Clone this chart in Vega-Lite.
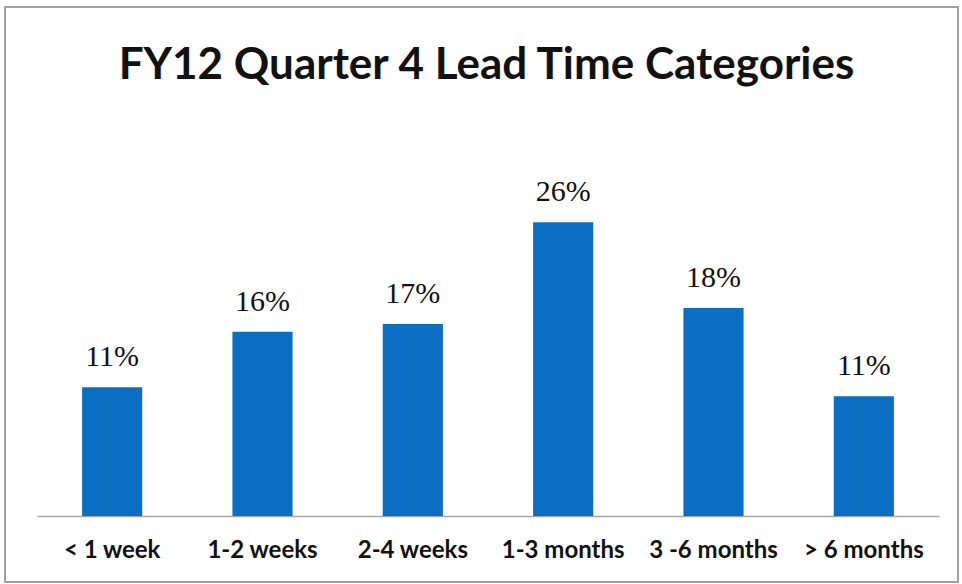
{
  "$schema": "https://vega.github.io/schema/vega-lite/v6.json",
  "autosize": {"type": "none"},
  "padding": {"left": 5, "top": 7, "right": 4, "bottom": 2},
  "width": 953,
  "height": 575,
  "background": "white",
  "config": {
    "view": {"stroke": "#a0a0a0", "strokeWidth": 2}
  },
  "title": {
    "text": "FY12 Quarter 4 Lead Time Categories",
    "font": "Lato",
    "fontWeight": "bold",
    "fontSize": 44,
    "color": "#111111",
    "anchor": "middle",
    "baseline": "alphabetic",
    "offset": -116,
    "dx": 5
  },
  "data": {
    "values": [
      {"category": "< 1 week", "value": 11.4, "label": "11%"},
      {"category": "1-2 weeks", "value": 16.3, "label": "16%"},
      {"category": "2-4 weeks", "value": 17.0, "label": "17%"},
      {"category": "1-3 months", "value": 26.0, "label": "26%"},
      {"category": "3 -6 months", "value": 18.4, "label": "18%"},
      {"category": "> 6 months", "value": 10.6, "label": "11%"}
    ]
  },
  "encoding": {
    "x": {
      "field": "category",
      "type": "nominal",
      "sort": null,
      "scale": {"range": [32, 934], "paddingInner": 0.6, "paddingOuter": 0.3},
      "axis": {
        "title": null,
        "orient": "bottom",
        "offset": -66,
        "labelAngle": 0,
        "ticks": false,
        "domainColor": "#a6a6a6",
        "domainWidth": 1.5,
        "labelFont": "Lato",
        "labelFontWeight": "bold",
        "labelFontSize": 24,
        "labelColor": "#111111",
        "labelPadding": 22
      }
    },
    "y": {
      "field": "value",
      "type": "quantitative",
      "scale": {"domain": [-5.84, 45.04], "nice": false, "zero": false},
      "axis": null
    }
  },
  "layer": [
    {
      "mark": {"type": "bar", "color": "#0a6fc2"},
      "encoding": {"y2": {"datum": 0}}
    },
    {
      "mark": {"type": "text", "font": "Liberation Serif", "fontSize": 30, "baseline": "alphabetic", "dy": -21, "color": "#111111"},
      "encoding": {"text": {"field": "label"}}
    }
  ]
}
